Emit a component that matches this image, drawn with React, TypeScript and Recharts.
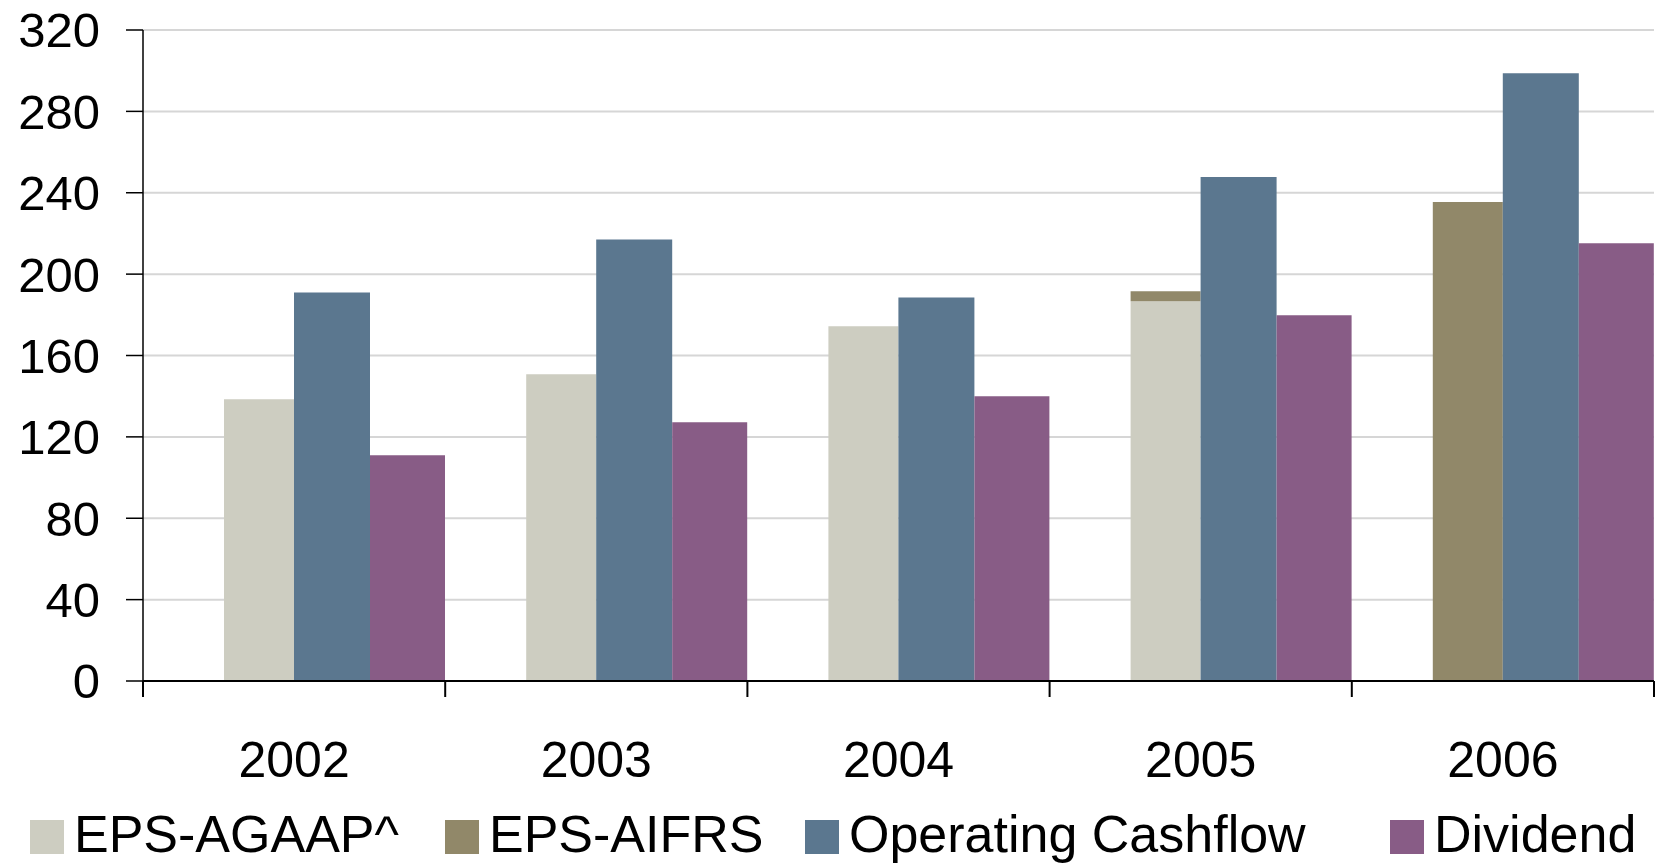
import { BarChart, Bar, XAxis, YAxis, CartesianGrid, Legend } from "recharts";

// years on the category axis
const years = ["2002", "2003", "2004", "2005", "2006"];

// values
const epsAgaap = [138.5, 150.8, 174.4, 186.7, null];
const epsAifrs = [null, null, null, 191.6, 235.4];
const operatingCashflow = [191, 217, 188.5, 247.7, 298.8];
const dividend = [111, 127.2, 140, 179.8, 215.2];

const yTicks = [0, 40, 80, 120, 160, 200, 240, 280, 320];

const COLORS = {
  agaap: "#cdcdc1",
  aifrs: "#918869",
  ocf: "#5b778f",
  div: "#885c86",
};

const legendItems = [
  { name: "EPS-AGAAP^", color: COLORS.agaap },
  { name: "EPS-AIFRS", color: COLORS.aifrs },
  { name: "Operating Cashflow", color: COLORS.ocf },
  { name: "Dividend", color: COLORS.div },
];

// AIFRS sits on top of AGAAP in the same column, so stack the difference
const data = years.map((year, i) => {
  const base = epsAgaap[i] ?? 0;
  const aifrs = epsAifrs[i];
  return {
    year,
    gap: 0,
    agaap: base,
    aifrsTop: aifrs == null ? 0 : aifrs - base,
    ocf: operatingCashflow[i],
    div: dividend[i],
  };
});

const FONT = "'Liberation Sans', Arial, sans-serif";
// widths of each legend entry (square + text + spacing)
const LEGEND_SLOTS = [415, 360, 585, 260];

function YearTick(props: any) {
  const { x, y, payload } = props;
  const half = payload.offset ?? 151;
  const last = payload.value === years[years.length - 1];
  return (
    <g>
      <line x1={x - half} x2={x - half} y1={y} y2={y + 16} stroke="#000" strokeWidth={2} />
      {last && <line x1={x + half} x2={x + half} y1={y} y2={y + 16} stroke="#000" strokeWidth={2} />}
      <text x={x} y={y + 96} textAnchor="middle" fontSize={50} fontFamily={FONT} fill="#000">
        {payload.value}
      </text>
    </g>
  );
}

function LegendBox() {
  return (
    <div style={{ display: "flex", height: 36, fontFamily: FONT, fontSize: 52, lineHeight: "36px" }}>
      {legendItems.map((it, i) => (
        <div key={it.name} style={{ display: "flex", alignItems: "flex-end", height: 36, width: LEGEND_SLOTS[i] }}>
          <span
            style={{
              width: 34,
              height: 34,
              background: it.color,
              display: "inline-block",
              marginRight: 10,
              marginBottom: 1,
              flexShrink: 0,
            }}
          />
          <span style={{ whiteSpace: "nowrap", color: "#000", position: "relative", top: -3 }}>{it.name}</span>
        </div>
      ))}
    </div>
  );
}

export default function App() {
  return (
    <div style={{ position: "fixed", left: 0, top: 0, width: 1656, height: 864, overflow: "hidden", background: "#fff" }}>
      <BarChart
        width={1656}
        height={864}
        data={data}
        margin={{ top: 30, right: 2, bottom: 0, left: 0 }}
        barCategoryGap={0}
        barGap={0}
      >
        <CartesianGrid horizontal vertical={false} stroke="#d6d6d6" strokeWidth={2} />
        <XAxis
          dataKey="year"
          height={147}
          tickSize={0}
          tickMargin={0}
          tickLine={false}
          axisLine={{ stroke: "#000", strokeWidth: 2 }}
          tick={<YearTick />}
          interval={0}
        />
        <YAxis
          width={143}
          domain={[0, 320]}
          ticks={yTicks}
          interval={0}
          tickSize={17}
          tickMargin={26}
          axisLine={{ stroke: "#000", strokeWidth: 1.5 }}
          tickLine={{ stroke: "#000", strokeWidth: 1.5 }}
          tick={{ fill: "#000", fontSize: 49, fontFamily: FONT }}
        />
        <Legend
          verticalAlign="bottom"
          content={<LegendBox />}
          wrapperStyle={{ left: 30, bottom: 9, width: 1620, height: 36 }}
        />
        <Bar dataKey="gap" stackId="gap" barSize={81} fill="none" legendType="none" isAnimationActive={false} />
        <Bar dataKey="agaap" stackId="eps" barSize={70} fill={COLORS.agaap} isAnimationActive={false} />
        <Bar dataKey="aifrsTop" stackId="eps" barSize={70} fill={COLORS.aifrs} isAnimationActive={false} />
        <Bar dataKey="ocf" stackId="ocf" barSize={76} fill={COLORS.ocf} isAnimationActive={false} />
        <Bar dataKey="div" stackId="div" barSize={75} fill={COLORS.div} isAnimationActive={false} />
      </BarChart>
    </div>
  );
}
